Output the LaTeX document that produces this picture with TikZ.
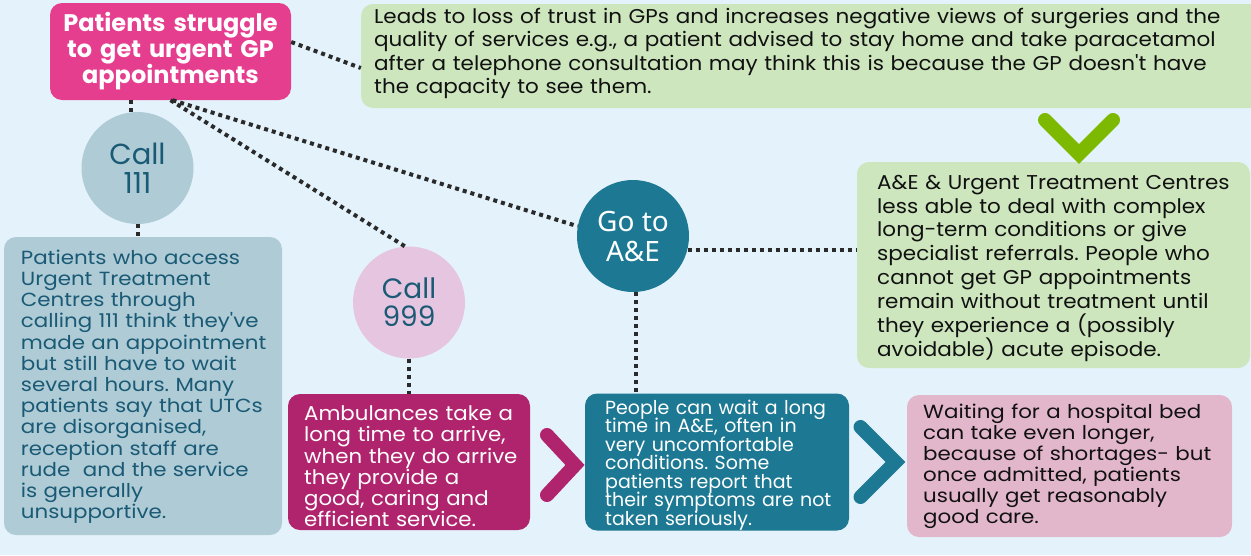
\documentclass[tikz,border=0pt]{standalone}
\usepackage{fontspec}
\setmainfont{Poppins}
\newfontfamily\gofont{Noto Sans}
\newfontfamily\popL[FakeStretch=1.075]{Poppins}
\newfontfamily\popM[FakeStretch=1.065]{Poppins}
\newfontfamily\popS[FakeStretch=1.125]{Poppins}
\newfontfamily\popN{Poppins}
\newcommand\tightls{\lineskiplimit=-20pt\relax}
\frenchspacing
\usetikzlibrary{calc}
\definecolor{bgc}{HTML}{E4F3FB}
\definecolor{pinkc}{HTML}{E63E8F}
\definecolor{greenc}{HTML}{CDE6BE}
\definecolor{checkc}{HTML}{7DB900}
\definecolor{ltbluec}{HTML}{AECBD6}
\definecolor{ltbluetext}{HTML}{1A5A75}
\definecolor{lavc}{HTML}{E6C5E0}
\definecolor{tealc}{HTML}{1C7893}
\definecolor{magc}{HTML}{B0246E}
\definecolor{pinklc}{HTML}{E3B7CB}
\definecolor{dotc}{HTML}{2A2A2A}
\definecolor{inkc}{HTML}{111111}
\tikzset{
  box/.style={rectangle, rounded corners=12pt, inner sep=0pt, draw=none},
  disc/.style={circle, minimum size=112pt, inner sep=0pt, align=center},
  txt/.style={anchor=base west, inner sep=0pt, align=left},
  dotline/.style={draw=dotc, line width=4pt, dash pattern=on 4pt off 4pt},
  chev/.style={line width=14pt, line cap=round, line join=miter}
}
\begin{document}
\frenchspacing
\begin{tikzpicture}[x=1pt,y=-1pt]
\useasboundingbox (0,0) rectangle (1251,555);
\fill[bgc] (0,0) rectangle (1251,555);

% boxes and circles
\node[box, fill=pinkc, minimum width=241pt, minimum height=97pt] (gp) at (170.5,51.5) {};
\node[box, fill=greenc, minimum width=901pt, minimum height=104pt] (lead) at (811.5,56) {};
\node[box, fill=greenc, minimum width=393pt, minimum height=206pt] (aec) at (1053.5,265) {};
\node[box, fill=ltbluec, minimum width=278pt, minimum height=298pt] (ltb) at (143,386) {};
\node[box, fill=magc, minimum width=242pt, minimum height=136pt] (amb) at (409,462) {};
\node[box, fill=tealc, minimum width=264pt, minimum height=137pt] (wait) at (717,462) {};
\node[box, fill=pinklc, minimum width=325pt, minimum height=142pt] (bed) at (1069.5,466) {};

\node[disc, fill=ltbluec, text=ltbluetext, font=\popN\fontsize{29}{28.7}\selectfont] (c111) at (137.5,168) {Call\\111};
\node[disc, fill=lavc, text=ltbluetext, font=\popN\fontsize{28}{28}\selectfont] (c999) at (409,302.5) {Call\\999};
\node[disc, fill=tealc, text=white, font=\gofont\fontsize{28}{30}\selectfont] (cae) at (633,236) {Go to\\A\&E};

% connectors
\draw[dotline] ($(gp.east)+(0,-9.5)$) -- ($(lead.west)+(0,12)$);
\draw[dotline] ($(gp.south)+(-39.5,0)$) -- ($(c111.north)+(-6.5,0)$);
\draw[dotline] (c111.south) -- (c111.south |- ltb.north);
\draw[dotline] (gp.south) -- (c999.94);
\draw[dotline] ($(gp.south)+(2,0)$) -- (cae.170);
\draw[dotline] (cae.-14) -- (cae.-14 -| aec.west);
\draw[dotline] (cae.-87) -- (cae.-87 |- wait.north);
\draw[dotline] (c999.south) -- (c999.south |- amb.north);

% chevrons
\draw[chev, draw=checkc] (1045,120) -- (1079,154) -- (1113,120);
\draw[chev, draw=magc] (547,435) -- (575,465) -- (547,495);
\draw[chev, draw=tealc] (860.5,427) -- (895.5,462) -- (860.5,497);

% texts
\node[anchor=base, inner sep=0pt, align=center, text=white, text width=240pt,
      font=\bfseries\fontsize{24}{25.7}\selectfont\tightls] (gpt) at (170.5,31.7)
  {Patients struggle\\to get urgent GP\\appointments};
\node[txt, text=inkc, text width=900pt, font=\popL\fontsize{20}{23.5}\selectfont] (leadt) at (374,23.3)
  {Leads to loss of trust in GPs and increases negative views of surgeries and the\\
   quality of services e.g., a patient advised to stay home and take paracetamol\\
   after a telephone consultation may think this is because the GP doesn't have\\
   the capacity to see them.};
\node[txt, text=inkc, text width=390pt, font=\popL\fontsize{20}{23.8}\selectfont] (aect) at (877,189.3)
  {A\&E \& Urgent Treatment Centres\\
   less able to deal with complex\\
   long-term conditions or give\\
   specialist referrals. People who\\
   cannot get GP appointments\\
   remain without treatment until\\
   they experience a (possibly\\
   avoidable) acute episode.};
\node[txt, text=ltbluetext, text width=290pt, font=\popS\fontsize{19}{21.2}\selectfont] (ltbt) at (20.7,264.3)
  {Patients who access\\
   Urgent Treatment\\
   Centres through\\
   calling 111 think they've\\
   made an appointment\\
   but still have to wait\\
   several hours. Many\\
   patients say that UTCs\\
   are disorganised,\\
   reception staff are\\
   rude\ \ and the service\\
   is generally\\
   unsupportive.};
\node[txt, text=white, text width=260pt, font=\popM\fontsize{20}{21.2}\selectfont] (ambt) at (304,420.7)
  {Ambulances take a\\
   long time to arrive,\\
   when they do arrive\\
   they provide a\\
   good, caring and\\
   efficient service.};
\node[txt, text=white, text width=270pt, font=\popN\fontsize{19}{18.5}\selectfont\tightls] (waitt) at (605,414)
  {People can wait a long\\
   time in A\&E, often in\\
   very uncomfortable\\
   conditions. Some\\
   patients report that\\
   their symptoms are not\\
   taken seriously.};
\node[txt, text=inkc, text width=340pt, font=\popS\fontsize{19}{21}\selectfont] (bedt) at (923,418.3)
  {Waiting for a hospital bed\\
   can take even longer,\\
   because of shortages- but\\
   once admitted, patients\\
   usually get reasonably\\
   good care.};
\end{tikzpicture}
\end{document}
